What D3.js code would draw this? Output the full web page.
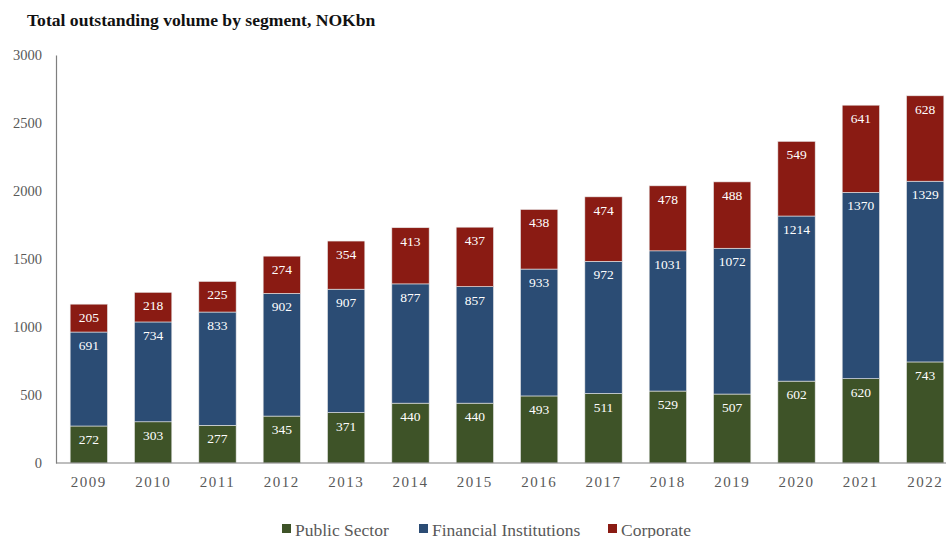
<!DOCTYPE html>
<html>
<head>
<meta charset="utf-8">
<script src="https://cdn.jsdelivr.net/npm/d3@7"></script>
<style>
  html, body { margin: 0; padding: 0; background: #fff; }
  svg { display: block; }
</style>
</head>
<body>
<svg id="chart" width="946" height="538"></svg>
<script>
// Outstanding volume by segment, NOKbn
const years = ["2009","2010","2011","2012","2013","2014","2015","2016","2017","2018","2019","2020","2021","2022"];
const publicSector = [272,303,277,345,371,440,440,493,511,529,507,602,620,743];
const financialInstitutions = [691,734,833,902,907,877,857,933,972,1031,1072,1214,1370,1329];
const corporate = [205,218,225,274,354,413,437,438,474,478,488,549,641,628];
const seriesNames = ["Public Sector","Financial Institutions","Corporate"];
const seriesColors = ["#3e5328","#2b4c74","#8a1b13"];
const yTicks = [0,500,1000,1500,2000,2500,3000];

const rows = years.map((y, i) => ({
  year: y,
  "Public Sector": publicSector[i],
  "Financial Institutions": financialInstitutions[i],
  "Corporate": corporate[i]
}));

const svg = d3.select("#chart");
const serif = "'Liberation Serif', 'Times New Roman', serif";

const x = d3.scaleBand().domain(years).range([56, 958]).paddingInner(0.42).paddingOuter(0.22);
const y = d3.scaleLinear().domain([0, 3000]).range([463, 55]);
const color = d3.scaleOrdinal().domain(seriesNames).range(seriesColors);

// Title
svg.append("text")
  .attr("x", 27).attr("y", 26)
  .attr("font-family", serif).attr("font-weight", "bold").attr("font-size", 17.6)
  .attr("fill", "#111")
  .text("Total outstanding volume by segment, NOKbn");

// Y axis (labels + line, no tick marks)
const yAxis = svg.append("g").attr("transform", "translate(56,0)")
  .call(d3.axisLeft(y).tickValues(yTicks).tickSize(0).tickPadding(14).tickFormat(d3.format("d")));
yAxis.select(".domain").attr("stroke", "#7f7f7f").attr("stroke-width", 1.2);
yAxis.selectAll("text").attr("font-family", serif).attr("font-size", 14.5).attr("fill", "#595959");

// Stacked bars
const stack = d3.stack().keys(seriesNames);
const layers = stack(rows);

const gLayers = svg.append("g").selectAll("g").data(layers).join("g")
  .attr("fill", d => color(d.key));

gLayers.selectAll("rect").data(d => d).join("rect")
  .attr("x", d => x(d.data.year))
  .attr("width", x.bandwidth())
  .attr("y", d => y(d[1]))
  .attr("height", d => y(d[0]) - y(d[1]))
  .attr("stroke", "#e8e8e8").attr("stroke-width", 0.6);

// Value labels near the top of each segment
layers.forEach(layer => {
  svg.append("g").selectAll("text").data(layer).join("text")
    .attr("x", d => x(d.data.year) + x.bandwidth() / 2)
    .attr("y", d => y(d[1]) + 18)
    .attr("text-anchor", "middle")
    .attr("font-family", serif).attr("font-size", 13.5)
    .attr("fill", "#fff")
    .text(d => d.data[layer.key]);
});

// X axis
const xAxis = svg.append("g").attr("transform", "translate(0,463)")
  .call(d3.axisBottom(x).tickSize(0).tickPadding(13));
xAxis.select(".domain").attr("d", "M56,0H946").attr("stroke", "#7f7f7f").attr("stroke-width", 1.2);
xAxis.selectAll("text").attr("font-family", serif).attr("font-size", 15)
  .attr("fill", "#595959").attr("letter-spacing", "1.5px");

// Legend
const legendItems = [
  { name: "Public Sector", x: 282 },
  { name: "Financial Institutions", x: 419 },
  { name: "Corporate", x: 608 }
];
const lg = svg.append("g").selectAll("g").data(legendItems).join("g")
  .attr("transform", d => `translate(${d.x},0)`);
lg.append("rect").attr("x", 0).attr("y", 524).attr("width", 9).attr("height", 9)
  .attr("fill", d => color(d.name));
lg.append("text").attr("x", 13).attr("y", 535.5)
  .attr("font-family", serif).attr("font-size", 17.5).attr("fill", "#595959")
  .text(d => d.name);
</script>
</body>
</html>
